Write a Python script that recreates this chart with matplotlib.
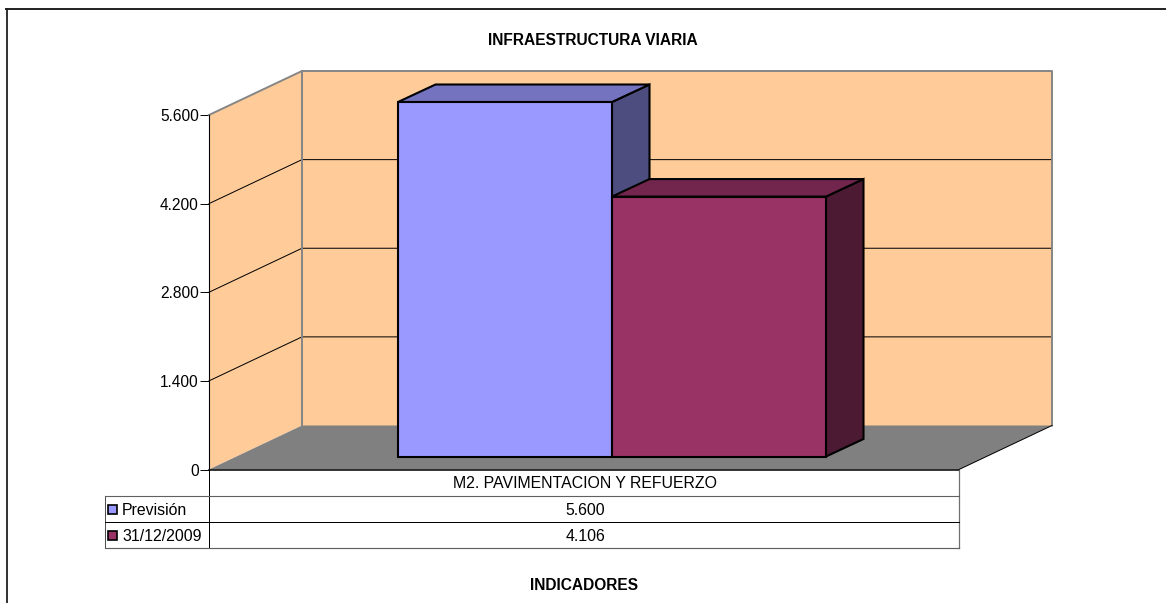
import matplotlib
matplotlib.use("Agg")
import matplotlib.pyplot as plt
from matplotlib.patches import Polygon, Rectangle
from matplotlib.lines import Line2D
from matplotlib.transforms import Affine2D

W, H = 1166, 603
plt.rcParams['font.family'] = ['Liberation Sans', 'DejaVu Sans']

title = "INFRAESTRUCTURA VIARIA"
xlabel = "INDICADORES"
category = "M2. PAVIMENTACION Y REFUERZO"
series_names = ["Previsión", "31/12/2009"]
series_values = [5600, 4106]
value_labels = ["5.600", "4.106"]
yticks = [0, 1400, 2800, 4200, 5600]
ytick_labels = ["0", "1.400", "2.800", "4.200", "5.600"]
front_colors = ["#9999FF", "#993366"]
top_colors = ["#7373BF", "#73264D"]
side_colors = ["#4D4D80", "#4D1A33"]

fig = plt.figure(figsize=(W / 100, H / 100), dpi=100, facecolor="white")
px = Affine2D().scale(1, -1).translate(0, H)  # figure pixels, y down

def add_line(xs, ys, color="black", lw=0.72, z=5):
    fig.add_artist(Line2D(xs, ys, transform=px, color=color, lw=lw, zorder=z))

# Outer frame: open on the right and at the bottom
add_line([7, 7], [9, H + 2], color="#303030", lw=1.4)
add_line([6, W + 2], [9, 9], color="#202020", lw=1.4)

# Front plane of the 3-D box
L, R, T, B = 209, 959, 115, 469.5
ax = fig.add_axes([L / W, 1 - B / H, (R - L) / W, (B - T) / H])
ax.set_xlim(0, R - L)
ax.set_ylim(0, max(yticks))
ax.patch.set_alpha(0)
for s in ax.spines.values():
    s.set_visible(False)
ax.spines['left'].set_visible(True)
ax.spines['left'].set_linewidth(0.8)
ax.spines['left'].set_zorder(6)
ax.set_xticks([])
ax.set_yticks(yticks, ytick_labels, fontsize=11.2)
ax.tick_params(axis='y', length=6.5, width=0.7, pad=0.8, colors='black')

k = max(yticks) / (B - T)      # value units per pixel
DX, DY = 93, 44 * k            # box depth
BDX, BDY = 37.5, 17.5 * k      # bar depth
BAR_X0, BAR_W = 189, 214       # first bar left edge, width
BAR_BASE = 13 * k              # bar front edge sits inside the floor

def poly(pts, fc, ec="none", lw=0, z=1):
    ax.add_patch(Polygon(pts, closed=True, fc=fc, ec=ec, lw=lw, zorder=z,
                         clip_on=False, joinstyle='miter'))

top = max(yticks)
wall = "#FFCC99"
grey = "#868686"
# walls and floor
poly([(DX, DY), (DX + 750, DY), (DX + 750, top + DY), (DX, top + DY)], wall, z=1)
poly([(0, 0), (DX, DY), (DX, top + DY), (0, top)], wall, z=1)
poly([(0, 0), (750, 0), (DX + 750, DY), (DX, DY)], "#808080", z=1)

# gridlines
for v in yticks[1:-1]:
    ax.plot([0, DX, DX + 750], [v, v + DY, v + DY], color="black", lw=0.72,
            zorder=2, clip_on=False)
# wall outlines
ax.plot([0, DX, DX + 750, DX + 750], [top, top + DY, top + DY, DY], color=grey,
        lw=1.4, zorder=2.5, clip_on=False)
ax.plot([DX, DX], [DY, top + DY], color=grey, lw=1.4, zorder=2.5, clip_on=False)
ax.plot([750, DX + 750], [0, DY], color="black", lw=0.72, zorder=2.5, clip_on=False)
ax.plot([0, 750], [0, 0], color="black", lw=1.1, zorder=6, clip_on=False)

# 3-D bars
for i, (val, fc, tc, sc) in enumerate(zip(series_values, front_colors, top_colors, side_colors)):
    x0 = BAR_X0 + i * BAR_W
    x1 = x0 + BAR_W
    y0 = BAR_BASE
    y1 = BAR_BASE + val
    z = 3 + 0.1 * i
    e = dict(ec="black", lw=1.5, z=z)
    poly([(x1, y0), (x1 + BDX, y0 + BDY), (x1 + BDX, y1 + BDY), (x1, y1)], sc, **e)
    poly([(x0, y1), (x1, y1), (x1 + BDX, y1 + BDY), (x0 + BDX, y1 + BDY)], tc, **e)
    poly([(x0, y0), (x1, y0), (x1, y1), (x0, y1)], fc, **e)

# Data table
rows = [469.5, 496, 522, 548]
TL = 104.5
add_line([L, L], [rows[0], rows[3]], lw=0.72)
add_line([R, R], [rows[0], rows[3]], color="#707070", lw=0.9)
add_line([TL, TL], [rows[1], rows[3]], color="#505050", lw=0.72)
add_line([TL, R], [rows[1], rows[1]], color="#606060", lw=0.8)
add_line([TL, R], [rows[2], rows[2]], lw=0.72)
add_line([TL, R], [rows[3], rows[3]], color="#606060", lw=0.85)

cx = 585
fs = 11.4
def put(x, y, s, ha="center", **kw):
    fig.text(x / W, 1 - y / H, s, ha=ha, va="center_baseline", fontsize=kw.pop("fontsize", fs),
             color="black", **kw)

put(cx, 482, category)
for i, (name, lab, col) in enumerate(zip(series_names, value_labels, front_colors)):
    yc = (rows[i + 1] + rows[i + 2]) / 2
    put(cx, yc, lab)
    put(122, yc, name, ha="left")
    fig.add_artist(Rectangle((108, yc - 4.5), 9, 9, transform=px, fc=col, ec="black",
                             lw=1.2, zorder=6))

put(592.5, 39, title, fontsize=11.2, fontweight="bold")
put(584, 584.5, xlabel, fontsize=11.2, fontweight="bold")

fig.savefig("out.png", dpi=100)
